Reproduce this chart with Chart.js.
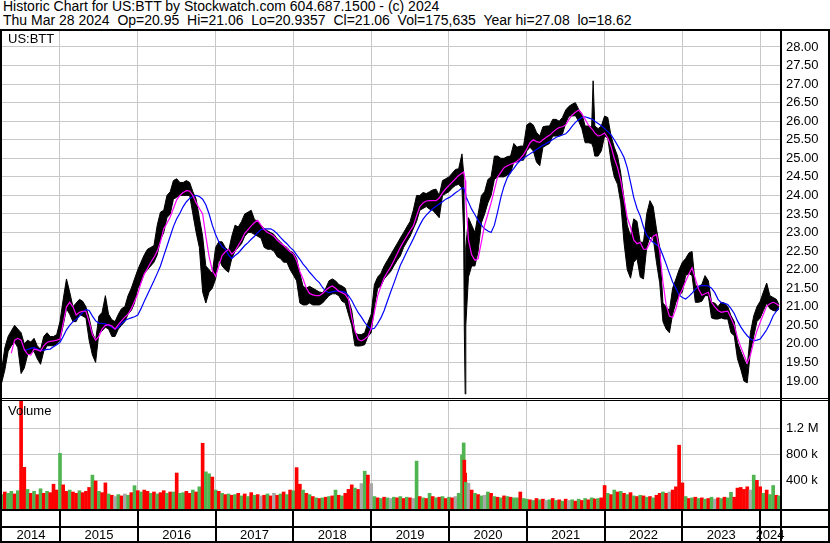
<!DOCTYPE html>
<html>
<head>
<meta charset="utf-8">
<title>US:BTT</title>
<script src="https://cdn.jsdelivr.net/npm/chart.js@4.4.1/dist/chart.umd.min.js"></script>
<style>
  html, body { margin: 0; padding: 0; background: #fff; }
  #wrap { position: relative; width: 830px; height: 543px; overflow: hidden; background: #fff;
          font-family: 'Liberation Sans', Arial, sans-serif; color: #000; }
  #hdr { position: absolute; left: 3px; top: -1px; font-size: 14px; line-height: 14px; white-space: pre; }
  .tag { position: absolute; left: 8px; font-size: 13px; line-height: 14px; }
  .ln { position: absolute; background: #000; }
  canvas { position: absolute; left: 0; }
</style>
</head>
<body>
<div id="wrap">
  <div id="hdr">Historic Chart for US:BTT by Stockwatch.com 604.687.1500 - (c) 2024
Thu Mar 28 2024  Op=20.95  Hi=21.06  Lo=20.9357  Cl=21.06  Vol=175,635  Year hi=27.08  lo=18.62</div>
  <canvas id="price" width="830" height="367" style="top:31px"></canvas>
  <canvas id="vol" width="830" height="142" style="top:401px"></canvas>
  <div class="tag" style="top:32px">US:BTT</div>
  <div class="tag" style="top:404px">Volume</div>
  <div class="ln" style="left:0;top:29px;width:830px;height:2px"></div>
  <div class="ln" style="left:0;top:29px;width:2px;height:514px"></div>
  <div class="ln" style="left:780px;top:29px;width:2px;height:514px"></div>
  <div class="ln" style="left:828px;top:29px;width:2px;height:514px"></div>
  <div class="ln" style="left:0;top:398px;width:830px;height:1px"></div>
  <div class="ln" style="left:0;top:400px;width:830px;height:1px"></div>
  <div class="ln" style="left:0;top:509px;width:830px;height:2px"></div>
  <div class="ln" style="left:0;top:526px;width:830px;height:2px"></div>
  <div class="ln" style="left:0;top:541px;width:830px;height:2px"></div>
</div>
<script>
// half-monthly samples (a few extra days around the 2020 crash and the Nov 2021 spike)
const dates = [
  '2014-04-01','2014-04-16','2014-05-01','2014-05-16','2014-06-01','2014-06-16','2014-07-01','2014-07-16','2014-08-01','2014-08-16','2014-09-01','2014-09-16','2014-10-01','2014-10-16','2014-11-01','2014-11-16','2014-12-01','2014-12-16',
  '2015-01-01','2015-01-16','2015-02-01','2015-02-16','2015-03-01','2015-03-16','2015-04-01','2015-04-16','2015-05-01','2015-05-16','2015-06-01','2015-06-16','2015-07-01','2015-07-16','2015-08-01','2015-08-16','2015-09-01','2015-09-16','2015-10-01','2015-10-16','2015-11-01','2015-11-16','2015-12-01','2015-12-16',
  '2016-01-01','2016-01-16','2016-02-01','2016-02-16','2016-03-01','2016-03-16','2016-04-01','2016-04-16','2016-05-01','2016-05-16','2016-06-01','2016-06-16','2016-07-01','2016-07-16','2016-08-01','2016-08-16','2016-09-01','2016-09-16','2016-10-01','2016-10-16','2016-11-01','2016-11-16','2016-12-01','2016-12-16',
  '2017-01-01','2017-01-16','2017-02-01','2017-02-16','2017-03-01','2017-03-16','2017-04-01','2017-04-16','2017-05-01','2017-05-16','2017-06-01','2017-06-16','2017-07-01','2017-07-16','2017-08-01','2017-08-16','2017-09-01','2017-09-16','2017-10-01','2017-10-16','2017-11-01','2017-11-16','2017-12-01','2017-12-16',
  '2018-01-01','2018-01-16','2018-02-01','2018-02-16','2018-03-01','2018-03-16','2018-04-01','2018-04-16','2018-05-01','2018-05-16','2018-06-01','2018-06-16','2018-07-01','2018-07-16','2018-08-01','2018-08-16','2018-09-01','2018-09-16','2018-10-01','2018-10-16','2018-11-01','2018-11-16','2018-12-01','2018-12-16',
  '2019-01-01','2019-01-16','2019-02-01','2019-02-16','2019-03-01','2019-03-16','2019-04-01','2019-04-16','2019-05-01','2019-05-16','2019-06-01','2019-06-16','2019-07-01','2019-07-16','2019-08-01','2019-08-16','2019-09-01','2019-09-16','2019-10-01','2019-10-16','2019-11-01','2019-11-16','2019-12-01','2019-12-16',
  '2020-01-01','2020-01-16','2020-02-01','2020-02-16','2020-03-01','2020-03-09','2020-03-12','2020-03-16','2020-03-19','2020-04-01','2020-04-16','2020-05-01','2020-05-16','2020-06-01','2020-06-16','2020-07-01','2020-07-16','2020-08-01','2020-08-16','2020-09-01','2020-09-16','2020-10-01','2020-10-16','2020-11-01','2020-11-16','2020-12-01','2020-12-16',
  '2021-01-01','2021-01-16','2021-02-01','2021-02-16','2021-03-01','2021-03-16','2021-04-01','2021-04-16','2021-05-01','2021-05-16','2021-06-01','2021-06-16','2021-07-01','2021-07-16','2021-08-01','2021-08-16','2021-09-01','2021-09-16','2021-10-01','2021-10-16','2021-11-01','2021-11-08','2021-11-16','2021-12-01','2021-12-16',
  '2022-01-01','2022-01-16','2022-02-01','2022-02-16','2022-03-01','2022-03-16','2022-04-01','2022-04-16','2022-05-01','2022-05-16','2022-06-01','2022-06-16','2022-07-01','2022-07-16','2022-08-01','2022-08-16','2022-09-01','2022-09-16','2022-10-01','2022-10-16','2022-11-01','2022-11-16','2022-12-01','2022-12-16',
  '2023-01-01','2023-01-16','2023-02-01','2023-02-16','2023-03-01','2023-03-16','2023-04-01','2023-04-16','2023-05-01','2023-05-16','2023-06-01','2023-06-16','2023-07-01','2023-07-16','2023-08-01','2023-08-16','2023-09-01','2023-09-16','2023-10-01','2023-10-16','2023-11-01','2023-11-16','2023-12-01','2023-12-16',
  '2024-01-01','2024-01-16','2024-02-01','2024-02-16','2024-03-01','2024-03-16','2024-03-28'
];

const highs = [
  19.3,19.9,20.2,20.35,20.5,20.4,20.3,20.0,20.1,20.05,20.15,19.95,19.85,20.2,20.3,20.2,20.2,20.25,
  20.6,21.2,21.75,21.4,21.0,21.1,21.2,21.15,21.0,20.7,20.3,20.1,20.75,20.85,21.3,20.8,20.65,20.6,20.8,20.95,21.0,21.3,21.5,21.75,
  22.0,22.2,22.4,22.55,22.6,22.65,23.2,23.55,23.6,24.0,24.1,24.4,24.45,24.35,24.35,24.4,24.35,24.1,23.9,23.4,22.9,22.1,22.0,21.9,
  22.6,22.75,22.75,22.6,22.5,22.9,23.2,23.15,23.3,23.5,23.55,23.6,23.35,23.3,23.2,23.1,23.05,23.0,22.95,22.83,22.75,22.65,22.6,22.5,
  22.45,22.3,21.9,21.55,21.5,21.55,21.5,21.45,21.4,21.38,21.5,21.7,21.75,21.7,21.6,21.56,21.5,21.2,20.9,20.3,20.25,20.25,20.3,20.57,
  20.8,21.6,21.8,21.9,22.1,22.25,22.4,22.55,22.7,22.85,23.0,23.15,23.3,23.6,24.0,24.0,24.08,24.05,24.1,24.15,24.17,24.0,24.4,24.45,
  24.5,24.6,24.7,24.72,25.12,24.6,23.5,22.0,22.6,23.4,23.2,23.0,23.5,24.0,24.1,24.43,24.5,25.06,25.06,25.0,25.0,25.05,25.06,25.4,25.3,25.33,25.33,
  25.9,25.96,25.9,25.7,25.6,25.85,25.87,25.87,26.05,26.05,26.0,26.1,26.3,26.4,26.46,26.5,26.32,26.2,25.87,25.87,25.85,27.09,25.87,25.8,25.87,
  26.14,26.1,25.6,25.3,25.06,24.6,23.9,23.2,22.9,23.37,23.3,22.74,22.74,23.5,23.86,23.7,23.1,22.6,21.1,21.0,20.9,21.5,21.75,22.0,
  22.2,22.3,22.45,22.49,21.57,21.55,21.6,21.84,21.7,21.12,21.1,21.0,21.12,21.1,21.0,20.76,20.6,20.04,19.8,19.59,19.4,20.3,20.75,21.0,
  21.15,21.4,21.64,21.3,21.25,21.2,21.06
];

const lows = [
  18.95,19.3,19.8,19.95,20.05,19.9,19.2,19.35,19.7,19.75,19.8,19.6,19.45,19.8,19.95,19.95,19.95,20.0,
  20.1,20.5,20.95,20.8,20.6,20.6,20.8,20.75,20.7,20.1,19.7,19.5,20.3,20.35,20.45,20.4,20.2,20.2,20.4,20.5,20.6,20.8,20.9,21.1,
  21.5,21.65,21.9,22.0,22.1,22.2,22.4,22.8,23.0,23.4,23.5,23.9,23.95,24.0,24.0,24.0,24.0,23.5,23.0,22.6,21.4,21.1,21.4,21.5,
  21.75,22.3,22.1,22.0,21.93,22.3,22.5,22.6,22.7,22.9,23.0,23.0,22.95,22.9,22.85,22.6,22.55,22.55,22.5,22.35,22.3,22.2,22.2,22.0,
  21.85,21.7,21.1,21.05,21.05,21.1,21.05,21.05,21.05,21.1,21.2,21.3,21.35,21.35,21.3,21.15,21.1,20.8,20.5,19.95,19.94,19.95,19.98,20.2,
  20.3,21.0,21.5,21.56,21.75,21.85,21.95,22.1,22.25,22.37,22.6,22.75,22.9,23.1,23.3,23.6,23.65,23.7,23.63,23.6,23.5,23.4,24.0,24.05,
  24.1,24.2,24.27,24.3,24.2,23.0,20.4,18.65,20.5,21.8,22.1,22.1,22.5,23.26,23.5,23.8,24.0,24.43,24.5,24.5,24.5,24.55,24.6,24.9,24.9,24.95,24.95,
  25.2,25.3,25.2,24.9,24.8,25.3,25.35,25.4,25.6,25.6,25.6,25.65,25.95,26.14,26.14,26.15,26.0,25.8,25.42,25.42,25.4,25.3,25.06,25.06,25.2,
  25.6,25.55,24.9,24.5,24.3,23.8,22.72,22.0,21.77,22.2,22.3,21.8,21.75,22.6,22.9,22.85,22.2,21.65,20.6,20.4,20.3,20.8,21.12,21.3,
  21.4,21.84,21.9,21.84,21.12,21.12,21.15,21.3,21.3,20.7,20.67,20.67,20.7,20.67,20.67,20.3,20.22,19.6,19.32,19.0,18.95,19.8,20.2,20.6,
  20.7,20.9,21.1,20.95,20.9,20.88,20.94
];

// short moving average (magenta)
const maFast = [
  null,null,null,19.75,20.1,20.15,20.1,19.85,19.72,19.7,19.86,19.84,19.8,19.95,20.04,20.07,20.08,20.1,
  20.13,20.55,21.0,21.12,21.0,20.78,20.85,20.88,20.88,20.6,20.25,20.1,20.2,20.4,20.5,20.52,20.48,20.4,20.52,20.62,20.72,20.8,20.95,21.15,
  21.35,21.65,21.88,22.03,22.2,22.33,22.5,22.75,23.1,23.25,23.42,23.65,23.88,24.0,24.08,24.13,24.12,24.0,23.8,23.65,23.5,22.9,22.35,21.98,
  21.82,22.1,22.38,22.48,22.55,22.42,22.5,22.65,22.8,22.98,23.08,23.18,23.27,23.33,23.2,23.08,23.0,22.96,22.9,22.8,22.72,22.65,22.57,22.48,
  22.42,22.25,21.95,21.75,21.5,21.36,21.32,21.3,21.3,21.36,21.45,21.52,21.56,21.5,21.42,21.38,21.33,21.2,20.7,20.35,20.12,20.08,20.13,20.2,
  20.42,20.85,21.3,21.55,21.78,21.93,22.07,22.24,22.42,22.6,22.76,22.9,23.05,23.18,23.45,23.7,23.8,23.85,23.86,23.86,23.86,23.93,24.07,24.18,
  24.27,24.36,24.45,24.54,24.6,24.63,24.55,24.4,23.9,22.8,22.4,22.25,22.3,22.75,23.2,23.5,23.8,24.15,24.5,24.62,24.75,24.8,24.84,24.87,24.92,25.0,25.1,
  25.25,25.42,25.5,25.45,25.43,25.5,25.57,25.62,25.7,25.78,25.83,25.85,25.9,26.05,26.17,26.24,26.3,26.2,26.05,25.9,25.8,25.75,25.68,25.6,25.63,
  25.68,25.55,25.32,25.0,24.75,24.4,23.9,23.4,23.15,22.8,22.7,22.73,22.55,22.55,22.74,22.9,22.95,22.5,21.66,21.05,20.75,20.71,20.95,21.3,
  21.47,21.68,21.88,22.05,21.75,21.48,21.31,21.35,21.39,21.12,21.0,20.9,20.85,20.87,20.88,20.7,20.5,20.17,19.92,19.7,19.48,19.7,20.06,20.35,
  20.58,20.8,21.02,21.08,21.12,21.08,21.03
];

// long moving average (blue)
const maSlow = [
  null,null,null,null,null,null,null,19.82,19.85,19.88,19.9,19.86,19.82,19.83,19.85,19.86,19.92,19.98,
  20.04,20.2,20.38,20.5,20.6,20.66,20.75,20.85,20.93,20.9,20.75,20.62,20.56,20.55,20.54,20.5,20.45,20.4,20.45,20.55,20.63,20.67,20.7,20.73,
  20.78,20.95,21.15,21.33,21.52,21.7,21.9,22.1,22.37,22.63,22.9,23.16,23.37,23.52,23.7,23.83,23.92,23.97,24.0,23.97,23.9,23.75,23.5,23.2,
  22.95,22.75,22.62,22.55,22.4,22.3,22.38,22.45,22.55,22.65,22.73,22.82,22.9,23.0,23.08,23.1,23.1,23.1,23.05,22.97,22.87,22.78,22.7,22.6,
  22.52,22.4,22.28,22.15,22.05,21.93,21.83,21.73,21.65,21.52,21.42,21.38,21.4,21.42,21.43,21.41,21.39,21.3,21.17,21.0,20.84,20.72,20.58,20.47,
  20.4,20.42,20.55,20.7,20.9,21.15,21.4,21.63,21.88,22.12,22.3,22.48,22.66,22.83,23.02,23.2,23.36,23.47,23.56,23.64,23.71,23.77,23.83,23.9,
  23.94,24.0,24.07,24.13,24.2,24.2,24.15,24.05,23.98,23.82,23.63,23.48,23.33,23.2,23.1,23.04,23.0,23.2,23.55,23.95,24.25,24.48,24.62,24.73,24.85,24.94,25.0,
  25.06,25.12,25.18,25.24,25.3,25.35,25.4,25.45,25.51,25.56,25.6,25.63,25.66,25.75,25.87,25.97,26.04,26.1,26.12,26.09,26.06,26.04,26.0,25.94,25.88,
  25.8,25.72,25.63,25.5,25.35,25.2,25.02,24.75,24.35,23.95,23.65,23.45,23.15,22.93,22.82,22.74,22.67,22.6,22.38,22.15,21.9,21.67,21.5,21.32,
  21.25,21.21,21.28,21.37,21.47,21.55,21.57,21.57,21.56,21.5,21.38,21.2,21.11,21.09,21.06,20.95,20.82,20.62,20.46,20.33,20.22,20.14,20.08,20.1,
  20.13,20.25,20.38,20.55,20.76,20.88,20.97
];

// volume in thousands, colour code: r = down, g = up, n = unchanged
const volumes = [
  180,220,200,230,190,240,1650,600,260,200,230,180,270,200,230,210,340,250,
  815,330,230,250,220,200,240,210,230,290,480,390,230,210,360,190,170,150,180,160,190,170,210,317,
  240,220,250,230,200,220,190,210,240,200,220,220,512,200,210,230,200,250,220,300,970,530,500,450,
  250,230,200,180,190,170,180,200,160,190,150,210,170,180,160,170,190,160,200,170,190,220,180,250,
  240,595,340,250,200,180,150,130,120,130,140,150,160,250,170,160,200,260,330,280,260,350,540,480,
  350,150,130,120,140,130,120,140,130,150,120,140,130,120,695,150,130,120,200,150,130,140,150,120,
  140,130,150,200,790,975,710,510,370,355,250,200,180,160,170,220,200,150,140,130,160,150,140,130,130,220,120,
  110,100,90,120,100,110,90,100,120,90,100,80,110,90,100,80,110,90,120,100,130,120,110,120,130,
  320,200,180,250,220,230,200,180,210,160,150,170,160,140,150,130,170,200,220,200,220,250,300,940,
  360,150,120,130,140,120,130,110,120,140,110,130,120,140,130,215,140,280,290,260,300,250,480,400,
  300,200,250,180,320,170,160
];
const volColors = [
  'g','r','g','g','r','g','r','r','g','r','g','r','g','r','g','r','r','r',
  'g','r','r','g','r','r','g','r','r','r','g','r','g','r','r','g','r','n','g','r','n','g','r','g',
  'r','g','r','r','g','r','g','r','r','g','r','g','r','g','g','r','r','g','r','g','r','g','g','r',
  'g','r','g','r','g','r','g','r','g','r','g','r','g','r','n','r','g','r','n','r','g','r','g','r',
  'g','r','r','g','r','g','r','g','r','g','r','g','r','g','r','g','r','r','r','g','r','n','g','r',
  'n','g','r','g','r','g','n','g','r','g','r','g','r','n','g','r','g','r','g','r','g','r','g','r',
  'g','r','n','g','g','g','r','r','g','n','r','g','r','g','n','g','r','g','r','g','r','g','r','g','g','r','g',
  'g','r','g','r','g','r','n','g','r','g','r','g','r','n','g','r','g','r','g','r','g','g','r','g','r',
  'r','g','r','g','r','g','r','g','r','g','r','g','r','g','r','g','r','r','g','r','n','r','r','r',
  'r','g','r','g','r','g','r','g','r','g','n','r','g','r','g','g','r','r','r','r','r','n','g','r',
  'r','g','r','g','g','r','g'
];

const priceTicks = [19, 19.5, 20, 20.5, 21, 21.5, 22, 22.5, 23, 23.5, 24, 24.5, 25, 25.5, 26, 26.5, 27, 27.5, 28];
const volTicks = [400000, 800000, 1200000];
const volTickLabels = ['400 k', '800 k', '1.2 M'];
const yearStarts = [2015, 2016, 2017, 2018, 2019, 2020, 2021, 2022, 2023, 2024];
const yearLabels = ['2014', '2015', '2016', '2017', '2018', '2019', '2020', '2021', '2022', '2023', '2024'];

const xMin = 2014.2545, xMax = 2024.2545;
const pMin = 18.542, pMax = 28.431;
const vMin = -41500, vMax = 1620000;

const FONT = "'Liberation Sans', Arial, sans-serif";
const GRID = '#c8c8c8';
const colorMap = { r: '#ff0000', g: '#50b450', n: '#a8a8a8' };

function toYear(s) {
    const p = s.split('-').map(Number);
    return p[0] + (p[1] - 1) / 12 + (p[2] - 1) / (12 * 30.44);
}
const xs = dates.map(toYear);
function pts(arr, scale) {
    const out = [];
    arr.forEach(function (v, i) {
        if (v !== null) out.push({ x: xs[i], y: v * (scale || 1) });
    });
    return out;
}

function noPad(s) {
    s.paddingTop = 0; s.paddingBottom = 0; s.paddingLeft = 0; s.paddingRight = 0;
}

const yearGridAxis = {
    type: 'linear', min: xMin, max: xMax, offset: false,
    afterBuildTicks: function (s) { s.ticks = yearStarts.map(function (v) { return { value: v }; }); },
    ticks: { display: false },
    grid: { color: GRID, drawTicks: false, offset: false },
    border: { display: false },
    afterFit: function (s) { s.height = 0; noPad(s); }
};

new Chart(document.getElementById('price'), {
    type: 'line',
    data: {
        datasets: [
            { data: pts(highs), borderColor: '#000', borderWidth: 1, backgroundColor: '#000', fill: '+1', pointRadius: 0, tension: 0, order: 3 },
            { data: pts(lows), borderColor: '#000', borderWidth: 1, fill: false, pointRadius: 0, tension: 0, order: 2 },
            { data: pts(maSlow), borderColor: '#0000ff', borderWidth: 1.2, fill: false, pointRadius: 0, tension: 0, order: 1 },
            { data: pts(maFast), borderColor: '#ff00ff', borderWidth: 1.2, fill: false, pointRadius: 0, tension: 0, order: 0 }
        ]
    },
    options: {
        responsive: false,
        animation: false,
        events: [],
        layout: { padding: { left: 2, right: 0, top: 0, bottom: 0 } },
        plugins: { legend: { display: false }, tooltip: { enabled: false } },
        scales: {
            x: yearGridAxis,
            y: {
                position: 'right', min: pMin, max: pMax,
                afterBuildTicks: function (s) { s.ticks = priceTicks.map(function (v) { return { value: v }; }); },
                ticks: {
                    autoSkip: false, padding: 6, color: '#000',
                    font: { family: FONT, size: 13 },
                    callback: function (v) { return Number(v).toFixed(2); }
                },
                grid: { color: GRID, drawTicks: false },
                border: { display: false },
                afterFit: function (s) { s.width = 50; noPad(s); }
            }
        }
    }
});

// black dividers between the year cells under the volume pane
const yearCells = {
    id: 'yearCells',
    afterDraw: function (chart) {
        const ctx = chart.ctx;
        const sx = chart.scales.x;
        ctx.save();
        ctx.fillStyle = '#000';
        yearStarts.forEach(function (v) {
            const px = Math.round(sx.getPixelForValue(v));
            ctx.fillRect(px - 1, chart.chartArea.bottom, 2, chart.height - chart.chartArea.bottom);
        });
        ctx.restore();
    }
};

new Chart(document.getElementById('vol'), {
    type: 'bar',
    data: {
        datasets: [{
            data: pts(volumes, 1000),
            backgroundColor: volColors.map(function (c) { return colorMap[c]; }),
            borderWidth: 0,
            barThickness: 3,
            base: vMin
        }]
    },
    options: {
        responsive: false,
        animation: false,
        events: [],
        layout: { padding: { left: 2, right: 0, top: 0, bottom: 0 } },
        plugins: { legend: { display: false }, tooltip: { enabled: false } },
        scales: {
            x: yearGridAxis,
            xl: {
                type: 'linear', position: 'bottom', min: xMin, max: xMax, offset: false,
                afterBuildTicks: function (s) {
                    s.ticks = yearLabels.map(function (lbl) {
                        const y0 = Math.max(Number(lbl), xMin);
                        const y1 = Math.min(Number(lbl) + 1, xMax);
                        return { value: (y0 + y1) / 2 };
                    });
                },
                ticks: {
                    autoSkip: false, maxRotation: 0, padding: 19, color: '#000',
                    font: { family: FONT, size: 13 },
                    callback: function (v, i) { return yearLabels[i]; }
                },
                grid: { display: false, drawTicks: false, offset: false },
                border: { display: false },
                afterFit: function (s) { s.height = 34; noPad(s); }
            },
            y: {
                position: 'right', min: vMin, max: vMax,
                afterBuildTicks: function (s) { s.ticks = volTicks.map(function (v) { return { value: v }; }); },
                ticks: {
                    autoSkip: false, padding: 6, color: '#000',
                    font: { family: FONT, size: 13 },
                    callback: function (v, i) { return volTickLabels[i]; }
                },
                grid: { color: GRID, drawTicks: false },
                border: { display: false },
                afterFit: function (s) { s.width = 50; noPad(s); }
            }
        }
    },
    plugins: [yearCells]
});
</script>
</body>
</html>
